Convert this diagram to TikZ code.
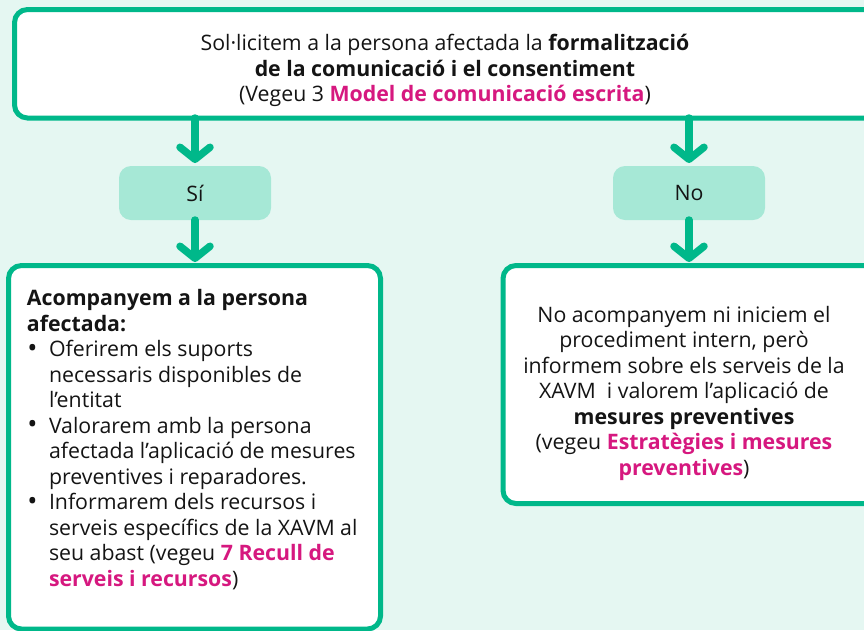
\documentclass[tikz,border=0pt]{standalone}
\usepackage{fontspec}
\setmainfont{Open Sans}
\usetikzlibrary{arrows.meta}
\definecolor{grn}{HTML}{00B88A}
\definecolor{lgrn}{HTML}{A6E8D6}
\definecolor{bgc}{HTML}{E5F7F2}
\definecolor{pnk}{HTML}{D6187F}
\definecolor{ink}{HTML}{141414}
\newcommand{\lnk}[1]{\textcolor{pnk}{\textbf{#1}}}
\newcommand{\itm}{\makebox[22pt][l]{\hspace{0.5pt}\raisebox{-0.5pt}{\fontsize{27}{25.5}\selectfont •}}}
\newcommand{\ind}{\hspace*{22pt}}
\tikzset{
  bigbox/.style={draw=grn, line width=5pt, fill=white, rounded corners=13pt, outer sep=0pt, inner sep=0pt},
  choice/.style={fill=lgrn, rounded corners=12pt, outer sep=0pt, inner sep=0pt, minimum width=152pt, minimum height=54pt, text=ink, font=\fontsize{21.3}{25.5}\selectfont},
  txt/.style={inner sep=0pt, outer sep=0pt, text=ink, font=\fontsize{21.3}{25.5}\selectfont},
  conn/.style={draw=grn, line width=7.5pt, line cap=round, -{Straight Barb[length=12pt,width=30pt,round]}}
}
\begin{document}
\begin{tikzpicture}[x=1pt,y=-1pt]
\clip (0,0) rectangle (864,630);
\fill[bgc] (0,0) rectangle (864,630);
\useasboundingbox (0,0) rectangle (864,630);
% boxes
\node[bigbox, minimum width=865.5pt, minimum height=108.5pt] (top) at (447.25,63.75) {};
\node[choice] (si) at (195,193) {Sí};
\node[choice] (no) at (689,193) {No};
\node[bigbox, minimum width=372pt, minimum height=363.5pt] (left) at (194.5,447.25) {};
\node[bigbox, minimum width=377pt, minimum height=238pt] (right) at (691.5,384.5) {};
% connectors
\draw[conn] (top.south -| si.north) -- ([yshift=3pt]si.north);
\draw[conn] (top.south -| no.north) -- ([yshift=3pt]no.north);
\draw[conn] (si.south) -- ([yshift=3.5pt]left.north -| si.south);
\draw[conn] (no.south) -- ([yshift=3.5pt]right.north -| no.south);
% texts
\node[txt, align=center, anchor=north] (ttext) at (445,34.5) {Sol·licitem a la persona afectada la \textbf{formalització}\\\textbf{de la comunicació i el consentiment}\\(Vegeu 3 \lnk{Model de comunicació escrita})};
\node[txt, align=left, anchor=north west] (ltext) at (27,289.5) {\textbf{Acompanyem a la persona}\\\textbf{afectada:}\\
\itm Oferirem els suports\\
\ind necessaris disponibles de\\
\ind l’entitat\\
\itm Valorarem amb la persona\\
\ind afectada l’aplicació de mesures\\
\ind preventives i reparadores.\\
\itm Informarem dels recursos i\\
\ind serveis específics de la XAVM al\\
\ind seu abast (vegeu \lnk{7 Recull de}\\
\ind \lnk{serveis i recursos})};
\node[txt, align=center, anchor=north] (rtext) at (684,306) {No acompanyem ni iniciem el\\procediment intern, però\\informem sobre els serveis de la\\XAVM\ \ i valorem l’aplicació de\\\textbf{mesures preventives}\\(vegeu \lnk{Estratègies i mesures}\\\lnk{preventives})};
\end{tikzpicture}
\end{document}
